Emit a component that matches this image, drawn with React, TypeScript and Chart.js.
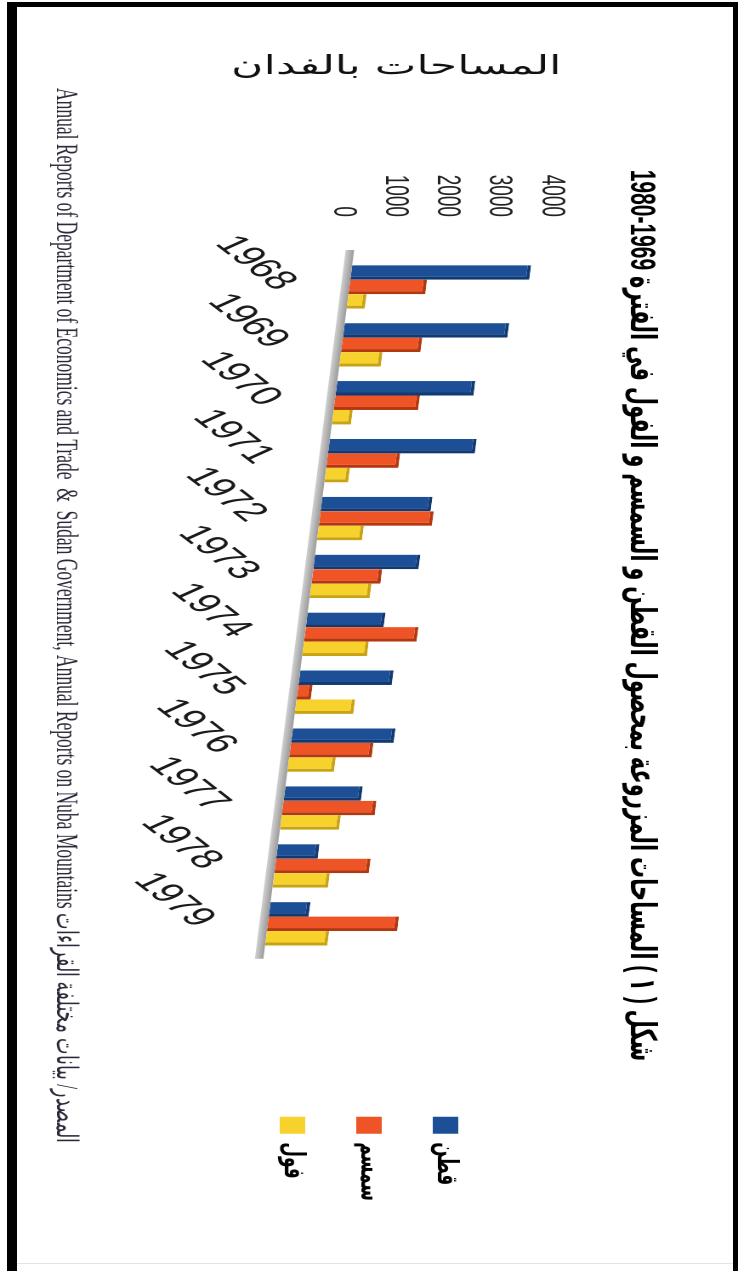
import React, { useEffect, useRef } from 'react';
import { Chart, registerables } from 'chart.js';

Chart.register(...registerables);

// ---------- data ----------
const YEARS = ['1968', '1969', '1970', '1971', '1972', '1973', '1974', '1975', '1976', '1977', '1978', '1979'];
const SERIES_NAMES = ['قطن', 'سمسم', 'فول'];
const COTTON = [3450, 3170, 2660, 2830, 2120, 2030, 1500, 1800, 1980, 1490, 800, 770];
const SESAME = [1480, 1530, 1630, 1390, 2180, 1330, 2170, 275, 1590, 1790, 1820, 2510];
const BEANS = [350, 800, 370, 460, 870, 1160, 1250, 1130, 900, 1140, 1070, 1200];
const VALUE_MIN = 0;
const VALUE_MAX = 4000;
const VALUE_STEP = 1000;

const TITLE = 'شكل ( ١ ) المساحات المزروعة بمحصول القطن و السمسم و الفول في الفترة 1969-1980';
const Y_AXIS_TITLE = 'المساحات بالفدان';
const SOURCE = 'المصدر/ بيانات مختلفة القراءات Annual Reports of Department of Economics and Trade  &  Sudan Government, Annual Reports on Nuba Mountains';

// ---------- styles / layout (canvas coordinates, before rotation) ----------
const PAGE_W = 738;
const PAGE_H = 1271;
const CW = PAGE_H; // canvas width (becomes page height)
const CH = 434; // canvas height (stretched to page width)
const STRETCH = PAGE_W / CH;

const COLORS = ['#1d4f97', '#ef5426', '#f7d22c'];
const EDGE_COLORS = ['#123a72', '#b33810', '#c9a316'];

const PAD_L = 20;
const PAD_R = 60;
const Y_AXIS_W = 238;
const RIGHT_SPACER_W = 136;
const X_AXIS_H = 153.4;
const SHEAR = 0.128 / STRETCH; // 3D floor slant
const PIVOT_X = 334;

const perspectivePlugin = {
  id: 'perspective',
  beforeDraw(chart: any) {
    const xs = chart.scales.x;
    if (xs && typeof xs.getLabelItems === 'function') {
      const items = xs.getLabelItems(chart.chartArea);
      for (const it of items) {
        if (!it._sheared && it.options && it.options.translation) {
          it.options.translation[1] += SHEAR * (it.options.translation[0] - PIVOT_X);
          it._sheared = true;
        }
      }
    }
  },
  beforeDatasetsDraw(chart: any) {
    const { ctx, chartArea, scales } = chart;
    const base = scales.y.getPixelForValue(0);
    ctx.save();
    ctx.transform(1, SHEAR, 0, 1, 0, -SHEAR * PIVOT_X);
    const g = ctx.createLinearGradient(0, base, 0, base + 5);
    g.addColorStop(0, '#9a9a9a');
    g.addColorStop(1, '#d0d0d0');
    ctx.fillStyle = g;
    ctx.fillRect(chartArea.left - 8, base, chartArea.right - chartArea.left + 14, 5);
  },
  afterDatasetsDraw(chart: any) {
    chart.ctx.restore();
  },
};

const axisTitlePlugin = {
  id: 'axisTitle',
  afterDraw(chart: any) {
    const { ctx } = chart;
    ctx.save();
    ctx.translate(67, 201);
    ctx.rotate(-Math.PI / 2);
    ctx.font = '26px "DejaVu Sans", sans-serif';
    ctx.fillStyle = '#111';
    ctx.textAlign = 'center';
    ctx.textBaseline = 'middle';
    ctx.fillText(Y_AXIS_TITLE, 0, 0);
    ctx.restore();
  },
};

export default function App() {
  const ref = useRef<HTMLCanvasElement>(null);

  useEffect(() => {
    const canvas = ref.current;
    if (!canvas) return;
    const seriesData = [COTTON, SESAME, BEANS];
    const chart = new Chart(canvas, {
      type: 'bar',
      data: {
        labels: YEARS,
        datasets: seriesData.map((d, i) => ({
          label: SERIES_NAMES[i],
          data: d,
          backgroundColor: COLORS[i],
          borderColor: EDGE_COLORS[i],
          borderWidth: { top: 2, right: 3, bottom: 0, left: 0 },
          categoryPercentage: 0.75,
          barPercentage: 1.0,
          clip: false as any,
        })),
      },
      options: {
        responsive: false,
        animation: false,
        devicePixelRatio: 2,
        layout: { padding: { left: PAD_L, right: PAD_R, top: 0, bottom: 0 } },
        plugins: {
          title: {
            display: true,
            text: TITLE,
            color: '#000',
            font: { size: 21, weight: 'bold', family: '"Liberation Sans", "DejaVu Sans", sans-serif' },
            padding: { top: 44.4, bottom: 40.4 },
          },
          subtitle: {
            display: true,
            position: 'bottom',
            text: SOURCE,
            color: '#2a2a3a',
            font: { size: 17.5, family: '"Liberation Serif", "DejaVu Serif", serif', weight: 'normal' },
            padding: { top: 0, bottom: 27.5 },
          },
          legend: {
            display: true,
            position: 'right',
            labels: {
              boxWidth: 17,
              boxHeight: 15,
              padding: 28,
              color: '#000',
              font: { size: 17, weight: 'bold', family: '"DejaVu Sans", sans-serif' },
              generateLabels: (c: any) =>
                (Chart.defaults.plugins.legend.labels.generateLabels as any)(c).map((l: any) => ({
                  ...l,
                  lineWidth: 0,
                  strokeStyle: 'rgba(0,0,0,0)',
                })),
            },
          },
          tooltip: { enabled: false },
        },
        scales: {
          x: {
            grid: { display: false },
            border: { display: false },
            ticks: {
              color: '#1a1a1a',
              font: { size: 27, family: '"Liberation Sans", sans-serif' },
              minRotation: 37.5,
              maxRotation: 37.5,
              autoSkip: false,
              padding: 17,
            },
            afterFit: (s: any) => {
              s.height = X_AXIS_H;
            },
          },
          y: {
            min: VALUE_MIN,
            max: VALUE_MAX,
            grid: { display: false, drawTicks: false },
            border: { display: false },
            ticks: {
              stepSize: VALUE_STEP,
              color: '#222',
              font: { size: 19, family: '"Liberation Sans", sans-serif' },
              padding: 41,
              callback: (v: any) => String(v),
            },
            afterFit: (s: any) => {
              s.width = Y_AXIS_W;
            },
          },
          y2: {
            type: 'linear',
            position: 'right',
            display: true,
            grid: { display: false, drawTicks: false },
            border: { display: false },
            ticks: { display: false },
            afterFit: (s: any) => {
              s.width = RIGHT_SPACER_W;
            },
          },
        },
      } as any,
      plugins: [perspectivePlugin, axisTitlePlugin],
    });
    return () => chart.destroy();
  }, []);

  return (
    <div
      style={{
        position: 'absolute',
        left: 0,
        top: 0,
        width: PAGE_W,
        height: PAGE_H,
        overflow: 'hidden',
        background: '#fff',
      }}
    >
      <div
        style={{
          position: 'absolute',
          left: 0,
          top: 0,
          width: CW,
          height: CH,
          transformOrigin: '0 0',
          transform: `translateX(${PAGE_W}px) rotate(90deg) scaleY(${STRETCH})`,
        }}
      >
        <canvas ref={ref} width={CW} height={CH} style={{ display: 'block', direction: 'rtl' }} />
      </div>
      {/* frame */}
      <div style={{ position: 'absolute', left: 7, top: 2, width: 10, height: PAGE_H, background: '#000' }} />
      <div style={{ position: 'absolute', left: 7, top: 2, width: PAGE_W - 7, height: 5, background: '#000' }} />
      <div style={{ position: 'absolute', left: 733, top: 2, width: 5, height: PAGE_H, background: '#000' }} />
      <div style={{ position: 'absolute', left: 17, top: 1263, width: 716, height: 1, background: '#e4e4e4' }} />
    </div>
  );
}
